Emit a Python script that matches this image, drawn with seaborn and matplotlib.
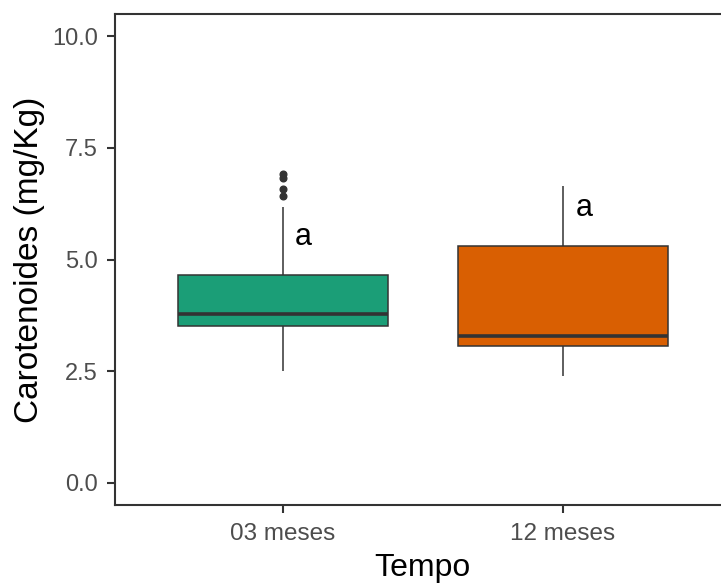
import numpy as np
import pandas as pd
import matplotlib
matplotlib.use("Agg")
import matplotlib.pyplot as plt
import seaborn as sns

# Carotenoid measurements (mg/Kg) per storage time
tempo_labels = ["03 meses", "12 meses"]
carot_03 = [2.50, 2.90, 3.15, 3.30, 3.42, 3.50, 3.55, 3.60, 3.66, 3.72, 3.77,
            3.90, 4.05, 4.25, 4.45, 4.65, 6.17, 6.42, 6.58, 6.82, 6.92]
carot_12 = [2.38, 2.80, 3.06, 3.15, 3.28, 4.40, 5.30, 5.90, 6.64]
letters = ["a", "a"]
letter_y = [5.50, 6.15]
palette = ["#1B9E77", "#D95F02"]

df = pd.DataFrame({
    "Tempo": [tempo_labels[0]] * len(carot_03) + [tempo_labels[1]] * len(carot_12),
    "Carotenoides": carot_03 + carot_12,
})

sns.set_style("white")
plt.rcParams["font.family"] = ["Liberation Sans", "DejaVu Sans"]

W, H = 721, 583
fig = plt.figure(figsize=(W / 100, H / 100), dpi=100)
ax = fig.add_axes([114.5 / W, 1 - 505 / H, (731 - 114.5) / W, (505 - 14) / H])

dark = "#333333"
sns.boxplot(
    data=df, x="Tempo", y="Carotenoides", hue="Tempo", order=tempo_labels,
    hue_order=tempo_labels, palette=palette, legend=False, width=0.75,
    linecolor=dark, linewidth=1.1, showcaps=False, saturation=1,
    medianprops=dict(linewidth=2.6, color=dark),
    flierprops=dict(marker="o", markerfacecolor=dark, markeredgecolor=dark,
                    markersize=4.8),
    ax=ax,
)

for i, (lab, yv) in enumerate(zip(letters, letter_y)):
    ax.text(i + 0.075, yv, lab, ha="center", va="center", fontsize=22,
            color="black")

ax.set_xlim(-0.6, 1.6)
ax.set_ylim(-0.5, 10.5)
ax.set_yticks([0, 2.5, 5, 7.5, 10])
ax.set_yticklabels(["0.0", "2.5", "5.0", "7.5", "10.0"])

for side in ["left", "right", "top", "bottom"]:
    ax.spines[side].set_visible(True)
    ax.spines[side].set_color(dark)
    ax.spines[side].set_linewidth(1.5)

ax.tick_params(axis="both", which="major", left=True, bottom=True,
               length=5.5, width=1.5, color=dark, labelcolor="#4D4D4D")
ax.tick_params(axis="y", labelsize=17, pad=6.5)
ax.tick_params(axis="x", labelsize=17.5, pad=7.5)

ax.set_xlabel("Tempo", fontsize=23, color="black", labelpad=5.5)
ax.set_ylabel("Carotenoides (mg/Kg)", fontsize=24, color="black", labelpad=5)
ax.grid(False)

fig.savefig("out.png", dpi=100)
